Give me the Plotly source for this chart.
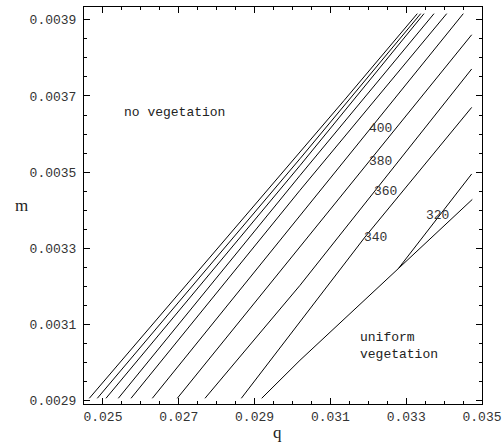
import plotly.graph_objects as go

# Contour lines of the (q, m) diagram
c1_q = [0.02464, 0.030198, 0.031359, 0.033293]
c1_m = [0.002905, 0.003552, 0.003688, 0.0039165]
c2_q = [0.024851, 0.030198, 0.033383]
c2_m = [0.002905, 0.003535, 0.0039165]
c3_q = [0.02508, 0.030198, 0.03347]
c3_m = [0.002905, 0.003517, 0.0039165]
c4_q = [0.025405, 0.030198, 0.033734]
c4_m = [0.002905, 0.003491, 0.0039165]
c5_q = [0.02574, 0.030198, 0.034069]
c5_m = [0.002905, 0.003452, 0.0039165]
c400_q = [0.026302, 0.030198, 0.034507]
c400_m = [0.002905, 0.003386, 0.0039165]
c380_q = [0.026961, 0.030198, 0.034728]
c380_m = [0.002905, 0.003303, 0.003861]
c360_q = [0.027692, 0.030198, 0.034728]
c360_m = [0.002905, 0.003202, 0.003771]
c340_q = [0.02865, 0.031913, 0.034728]
c340_m = [0.002905, 0.003329, 0.00367]
c320_q = [0.032792, 0.034728]
c320_m = [0.003246, 0.003495]
boundary_q = [0.029188, 0.030198, 0.032792, 0.034744]
boundary_m = [0.002905, 0.003005, 0.003246, 0.003428]

contours = [
    (c1_q, c1_m), (c2_q, c2_m), (c3_q, c3_m), (c4_q, c4_m), (c5_q, c5_m),
    (c400_q, c400_m), (c380_q, c380_m), (c360_q, c360_m), (c340_q, c340_m),
    (c320_q, c320_m), (boundary_q, boundary_m),
]

label_text = ["400", "380", "360", "340", "320"]
label_q = [0.032309, 0.032335, 0.032441, 0.032203, 0.033839]
label_m = [0.003614, 0.003528, 0.003449, 0.003328, 0.003386]

region_text = ["no vegetation", "uniform<br>vegetation"]
region_q = [0.0269, 0.031729]
region_m = [0.003657, 0.003043]

mono = "Courier New, Liberation Mono, monospace"
serif = "Liberation Serif, Times New Roman, serif"

fig = go.Figure()
for q, m in contours:
    fig.add_trace(go.Scatter(x=q, y=m, mode="lines",
                             line=dict(color="black", width=1),
                             showlegend=False, hoverinfo="skip"))

for t, q, m in zip(label_text, label_q, label_m):
    fig.add_annotation(x=q, y=m, text=t, showarrow=False,
                       font=dict(family=mono, size=13, color="#333333"))

fig.add_annotation(x=region_q[0], y=region_m[0], text=region_text[0],
                   showarrow=False, font=dict(family=mono, size=13, color="#222222"))
fig.add_annotation(x=region_q[1], y=region_m[1], text=region_text[1],
                   showarrow=False, xanchor="left", align="left",
                   font=dict(family=mono, size=13, color="#222222"))

# axis titles (upright, as in the reference)
fig.add_annotation(xref="paper", yref="paper", x=-0.178, y=0.5, text="m",
                   showarrow=False, font=dict(family=serif, size=17, color="#222222"))
fig.add_annotation(xref="paper", yref="paper", x=0.485, y=-0.072, text="q",
                   showarrow=False, yanchor="middle",
                   font=dict(family=serif, size=17, color="#222222"))

axis_common = dict(showgrid=False, zeroline=False, showline=True, linecolor="black",
                   linewidth=1, mirror="allticks", ticks="inside", ticklen=6,
                   tickcolor="black", automargin=False,
                   tickfont=dict(family=mono, size=13, color="#333333"))

fig.update_xaxes(range=[0.0245, 0.035], tickmode="linear", tick0=0.025, dtick=0.002,
                 tickformat=".3f",
                 minor=dict(dtick=0.0005, tick0=0.0245, ticks="inside", ticklen=3,
                            tickcolor="black", showgrid=False),
                 **axis_common)
fig.update_yaxes(range=[0.00289, 0.003934], tickmode="linear", tick0=0.0029, dtick=0.0002,
                 tickformat=".4f",
                 minor=dict(dtick=0.00005, tick0=0.0029, ticks="inside", ticklen=3,
                            tickcolor="black", showgrid=False),
                 ticklabelstandoff=4,
                 **axis_common)

fig.update_layout(width=502, height=444, margin=dict(l=84, r=20, t=7, b=40),
                  plot_bgcolor="white", paper_bgcolor="white")

fig.write_html("out.html", config={"displayModeBar": False},
               post_script="document.body.style.margin='0';document.body.style.overflow='hidden';")
